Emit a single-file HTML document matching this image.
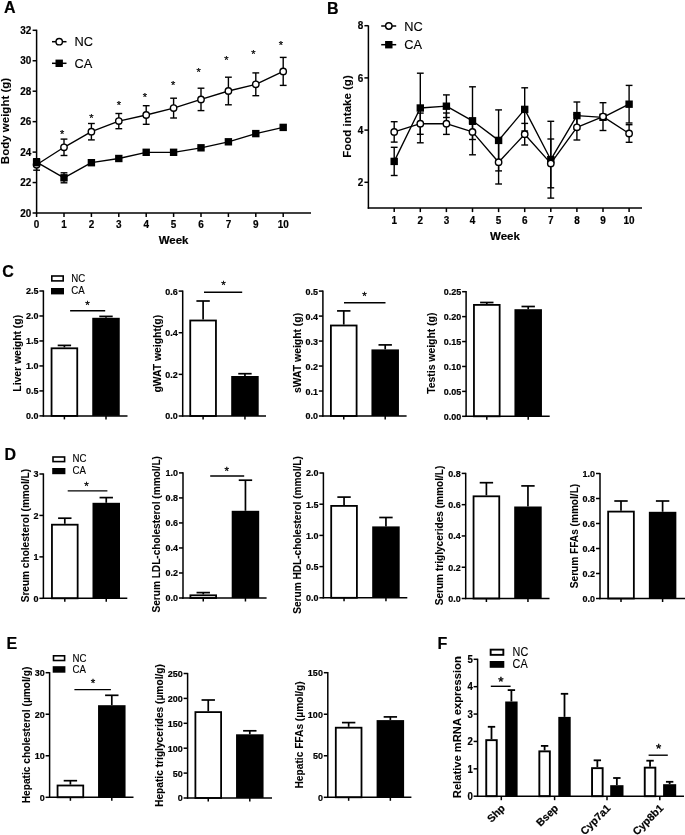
<!DOCTYPE html>
<html><head><meta charset="utf-8"><title>Figure</title>
<style>
html,body{margin:0;padding:0;background:#fff;}
body{width:685px;height:835px;overflow:hidden;}
svg{display:block;will-change:transform;}
svg text{font-family:"Liberation Sans",sans-serif;fill:#000;}
svg text.r{stroke:#000;stroke-width:0.12px;}
svg text.b{stroke:#000;stroke-width:0.2px;stroke-linejoin:round;}
</style></head><body>
<svg width="685" height="835" viewBox="0 0 685 835">
<rect x="0" y="0" width="685" height="835" fill="#fff"/>
<text x="3.9" y="13" font-size="16" font-weight="bold" text-anchor="start" class="b">A</text>
<line x1="36.6" y1="29.7" x2="36.6" y2="213.65" stroke="#000" stroke-width="1.5" stroke-linecap="butt"/>
<line x1="35.95" y1="213" x2="311" y2="213" stroke="#000" stroke-width="1.5" stroke-linecap="butt"/>
<line x1="32.6" y1="30.3" x2="36.6" y2="30.3" stroke="#000" stroke-width="1.5" stroke-linecap="butt"/>
<text transform="translate(31.4 33.9) scale(0.93 1)" font-size="10.7" font-weight="bold" text-anchor="end" class="b">32</text>
<line x1="32.6" y1="60.75" x2="36.6" y2="60.75" stroke="#000" stroke-width="1.5" stroke-linecap="butt"/>
<text transform="translate(31.4 64.35) scale(0.93 1)" font-size="10.7" font-weight="bold" text-anchor="end" class="b">30</text>
<line x1="32.6" y1="91.2" x2="36.6" y2="91.2" stroke="#000" stroke-width="1.5" stroke-linecap="butt"/>
<text transform="translate(31.4 94.8) scale(0.93 1)" font-size="10.7" font-weight="bold" text-anchor="end" class="b">28</text>
<line x1="32.6" y1="121.65" x2="36.6" y2="121.65" stroke="#000" stroke-width="1.5" stroke-linecap="butt"/>
<text transform="translate(31.4 125.25) scale(0.93 1)" font-size="10.7" font-weight="bold" text-anchor="end" class="b">26</text>
<line x1="32.6" y1="152.1" x2="36.6" y2="152.1" stroke="#000" stroke-width="1.5" stroke-linecap="butt"/>
<text transform="translate(31.4 155.7) scale(0.93 1)" font-size="10.7" font-weight="bold" text-anchor="end" class="b">24</text>
<line x1="32.6" y1="182.55" x2="36.6" y2="182.55" stroke="#000" stroke-width="1.5" stroke-linecap="butt"/>
<text transform="translate(31.4 186.15) scale(0.93 1)" font-size="10.7" font-weight="bold" text-anchor="end" class="b">22</text>
<line x1="32.6" y1="213" x2="36.6" y2="213" stroke="#000" stroke-width="1.5" stroke-linecap="butt"/>
<text transform="translate(31.4 216.6) scale(0.93 1)" font-size="10.7" font-weight="bold" text-anchor="end" class="b">20</text>
<line x1="36.6" y1="213" x2="36.6" y2="217" stroke="#000" stroke-width="1.5" stroke-linecap="butt"/>
<text transform="translate(36.6 228.2) scale(0.93 1)" font-size="10.7" font-weight="bold" text-anchor="middle" class="b">0</text>
<line x1="64" y1="213" x2="64" y2="217" stroke="#000" stroke-width="1.5" stroke-linecap="butt"/>
<text transform="translate(64 228.2) scale(0.93 1)" font-size="10.7" font-weight="bold" text-anchor="middle" class="b">1</text>
<line x1="91.4" y1="213" x2="91.4" y2="217" stroke="#000" stroke-width="1.5" stroke-linecap="butt"/>
<text transform="translate(91.4 228.2) scale(0.93 1)" font-size="10.7" font-weight="bold" text-anchor="middle" class="b">2</text>
<line x1="118.8" y1="213" x2="118.8" y2="217" stroke="#000" stroke-width="1.5" stroke-linecap="butt"/>
<text transform="translate(118.8 228.2) scale(0.93 1)" font-size="10.7" font-weight="bold" text-anchor="middle" class="b">3</text>
<line x1="146.2" y1="213" x2="146.2" y2="217" stroke="#000" stroke-width="1.5" stroke-linecap="butt"/>
<text transform="translate(146.2 228.2) scale(0.93 1)" font-size="10.7" font-weight="bold" text-anchor="middle" class="b">4</text>
<line x1="173.6" y1="213" x2="173.6" y2="217" stroke="#000" stroke-width="1.5" stroke-linecap="butt"/>
<text transform="translate(173.6 228.2) scale(0.93 1)" font-size="10.7" font-weight="bold" text-anchor="middle" class="b">5</text>
<line x1="201" y1="213" x2="201" y2="217" stroke="#000" stroke-width="1.5" stroke-linecap="butt"/>
<text transform="translate(201 228.2) scale(0.93 1)" font-size="10.7" font-weight="bold" text-anchor="middle" class="b">6</text>
<line x1="228.4" y1="213" x2="228.4" y2="217" stroke="#000" stroke-width="1.5" stroke-linecap="butt"/>
<text transform="translate(228.4 228.2) scale(0.93 1)" font-size="10.7" font-weight="bold" text-anchor="middle" class="b">7</text>
<line x1="255.8" y1="213" x2="255.8" y2="217" stroke="#000" stroke-width="1.5" stroke-linecap="butt"/>
<text transform="translate(255.8 228.2) scale(0.93 1)" font-size="10.7" font-weight="bold" text-anchor="middle" class="b">9</text>
<line x1="283.2" y1="213" x2="283.2" y2="217" stroke="#000" stroke-width="1.5" stroke-linecap="butt"/>
<text transform="translate(283.2 228.2) scale(0.93 1)" font-size="10.7" font-weight="bold" text-anchor="middle" class="b">10</text>
<text x="173.6" y="243.8" font-size="11.5" font-weight="bold" text-anchor="middle" class="b">Week</text>
<text transform="translate(9.19 121) rotate(-90)" font-size="11.5" font-weight="bold" text-anchor="middle" class="b" style="stroke-width:0.08px">Body weight (g)</text>
<line x1="36.6" y1="164.7" x2="36.6" y2="159.2" stroke="#000" stroke-width="1.4" stroke-linecap="butt"/>
<line x1="33.2" y1="159.2" x2="40" y2="159.2" stroke="#000" stroke-width="1.4" stroke-linecap="butt"/>
<line x1="36.6" y1="164.7" x2="36.6" y2="170.2" stroke="#000" stroke-width="1.4" stroke-linecap="butt"/>
<line x1="33.2" y1="170.2" x2="40" y2="170.2" stroke="#000" stroke-width="1.4" stroke-linecap="butt"/>
<line x1="64" y1="147.3" x2="64" y2="139.1" stroke="#000" stroke-width="1.4" stroke-linecap="butt"/>
<line x1="60.6" y1="139.1" x2="67.4" y2="139.1" stroke="#000" stroke-width="1.4" stroke-linecap="butt"/>
<line x1="64" y1="147.3" x2="64" y2="155.5" stroke="#000" stroke-width="1.4" stroke-linecap="butt"/>
<line x1="60.6" y1="155.5" x2="67.4" y2="155.5" stroke="#000" stroke-width="1.4" stroke-linecap="butt"/>
<line x1="91.4" y1="131.7" x2="91.4" y2="123.5" stroke="#000" stroke-width="1.4" stroke-linecap="butt"/>
<line x1="88" y1="123.5" x2="94.8" y2="123.5" stroke="#000" stroke-width="1.4" stroke-linecap="butt"/>
<line x1="91.4" y1="131.7" x2="91.4" y2="139.9" stroke="#000" stroke-width="1.4" stroke-linecap="butt"/>
<line x1="88" y1="139.9" x2="94.8" y2="139.9" stroke="#000" stroke-width="1.4" stroke-linecap="butt"/>
<line x1="118.8" y1="121.1" x2="118.8" y2="113.5" stroke="#000" stroke-width="1.4" stroke-linecap="butt"/>
<line x1="115.4" y1="113.5" x2="122.2" y2="113.5" stroke="#000" stroke-width="1.4" stroke-linecap="butt"/>
<line x1="118.8" y1="121.1" x2="118.8" y2="128.7" stroke="#000" stroke-width="1.4" stroke-linecap="butt"/>
<line x1="115.4" y1="128.7" x2="122.2" y2="128.7" stroke="#000" stroke-width="1.4" stroke-linecap="butt"/>
<line x1="146.2" y1="115" x2="146.2" y2="105.7" stroke="#000" stroke-width="1.4" stroke-linecap="butt"/>
<line x1="142.8" y1="105.7" x2="149.6" y2="105.7" stroke="#000" stroke-width="1.4" stroke-linecap="butt"/>
<line x1="146.2" y1="115" x2="146.2" y2="124.3" stroke="#000" stroke-width="1.4" stroke-linecap="butt"/>
<line x1="142.8" y1="124.3" x2="149.6" y2="124.3" stroke="#000" stroke-width="1.4" stroke-linecap="butt"/>
<line x1="173.6" y1="108.1" x2="173.6" y2="98.2" stroke="#000" stroke-width="1.4" stroke-linecap="butt"/>
<line x1="170.2" y1="98.2" x2="177" y2="98.2" stroke="#000" stroke-width="1.4" stroke-linecap="butt"/>
<line x1="173.6" y1="108.1" x2="173.6" y2="118" stroke="#000" stroke-width="1.4" stroke-linecap="butt"/>
<line x1="170.2" y1="118" x2="177" y2="118" stroke="#000" stroke-width="1.4" stroke-linecap="butt"/>
<line x1="201" y1="99.4" x2="201" y2="88.2" stroke="#000" stroke-width="1.4" stroke-linecap="butt"/>
<line x1="197.6" y1="88.2" x2="204.4" y2="88.2" stroke="#000" stroke-width="1.4" stroke-linecap="butt"/>
<line x1="201" y1="99.4" x2="201" y2="110.6" stroke="#000" stroke-width="1.4" stroke-linecap="butt"/>
<line x1="197.6" y1="110.6" x2="204.4" y2="110.6" stroke="#000" stroke-width="1.4" stroke-linecap="butt"/>
<line x1="228.4" y1="91" x2="228.4" y2="77.2" stroke="#000" stroke-width="1.4" stroke-linecap="butt"/>
<line x1="225" y1="77.2" x2="231.8" y2="77.2" stroke="#000" stroke-width="1.4" stroke-linecap="butt"/>
<line x1="228.4" y1="91" x2="228.4" y2="104.8" stroke="#000" stroke-width="1.4" stroke-linecap="butt"/>
<line x1="225" y1="104.8" x2="231.8" y2="104.8" stroke="#000" stroke-width="1.4" stroke-linecap="butt"/>
<line x1="255.8" y1="84.3" x2="255.8" y2="72.9" stroke="#000" stroke-width="1.4" stroke-linecap="butt"/>
<line x1="252.4" y1="72.9" x2="259.2" y2="72.9" stroke="#000" stroke-width="1.4" stroke-linecap="butt"/>
<line x1="255.8" y1="84.3" x2="255.8" y2="95.7" stroke="#000" stroke-width="1.4" stroke-linecap="butt"/>
<line x1="252.4" y1="95.7" x2="259.2" y2="95.7" stroke="#000" stroke-width="1.4" stroke-linecap="butt"/>
<line x1="283.2" y1="71.4" x2="283.2" y2="57.4" stroke="#000" stroke-width="1.4" stroke-linecap="butt"/>
<line x1="279.8" y1="57.4" x2="286.6" y2="57.4" stroke="#000" stroke-width="1.4" stroke-linecap="butt"/>
<line x1="283.2" y1="71.4" x2="283.2" y2="85.4" stroke="#000" stroke-width="1.4" stroke-linecap="butt"/>
<line x1="279.8" y1="85.4" x2="286.6" y2="85.4" stroke="#000" stroke-width="1.4" stroke-linecap="butt"/>
<polyline points="36.6,164.7 64,147.3 91.4,131.7 118.8,121.1 146.2,115 173.6,108.1 201,99.4 228.4,91 255.8,84.3 283.2,71.4" fill="none" stroke="#000" stroke-width="1.35" stroke-linejoin="round"/>
<circle cx="36.6" cy="164.7" r="3.2" fill="#fff" stroke="#000" stroke-width="1.4"/>
<circle cx="64" cy="147.3" r="3.2" fill="#fff" stroke="#000" stroke-width="1.4"/>
<circle cx="91.4" cy="131.7" r="3.2" fill="#fff" stroke="#000" stroke-width="1.4"/>
<circle cx="118.8" cy="121.1" r="3.2" fill="#fff" stroke="#000" stroke-width="1.4"/>
<circle cx="146.2" cy="115" r="3.2" fill="#fff" stroke="#000" stroke-width="1.4"/>
<circle cx="173.6" cy="108.1" r="3.2" fill="#fff" stroke="#000" stroke-width="1.4"/>
<circle cx="201" cy="99.4" r="3.2" fill="#fff" stroke="#000" stroke-width="1.4"/>
<circle cx="228.4" cy="91" r="3.2" fill="#fff" stroke="#000" stroke-width="1.4"/>
<circle cx="255.8" cy="84.3" r="3.2" fill="#fff" stroke="#000" stroke-width="1.4"/>
<circle cx="283.2" cy="71.4" r="3.2" fill="#fff" stroke="#000" stroke-width="1.4"/>
<line x1="36.6" y1="162.2" x2="36.6" y2="158.7" stroke="#000" stroke-width="1.4" stroke-linecap="butt"/>
<line x1="33.2" y1="158.7" x2="40" y2="158.7" stroke="#000" stroke-width="1.4" stroke-linecap="butt"/>
<line x1="36.6" y1="162.2" x2="36.6" y2="165.7" stroke="#000" stroke-width="1.4" stroke-linecap="butt"/>
<line x1="33.2" y1="165.7" x2="40" y2="165.7" stroke="#000" stroke-width="1.4" stroke-linecap="butt"/>
<line x1="64" y1="177.8" x2="64" y2="172.8" stroke="#000" stroke-width="1.4" stroke-linecap="butt"/>
<line x1="60.6" y1="172.8" x2="67.4" y2="172.8" stroke="#000" stroke-width="1.4" stroke-linecap="butt"/>
<line x1="64" y1="177.8" x2="64" y2="182.8" stroke="#000" stroke-width="1.4" stroke-linecap="butt"/>
<line x1="60.6" y1="182.8" x2="67.4" y2="182.8" stroke="#000" stroke-width="1.4" stroke-linecap="butt"/>
<polyline points="36.6,162.2 64,177.8 91.4,162.7 118.8,158.5 146.2,152.3 173.6,152.3 201,147.8 228.4,141.8 255.8,133.6 283.2,127.4" fill="none" stroke="#000" stroke-width="1.35" stroke-linejoin="round"/>
<rect x="32.9" y="158.5" width="7.4" height="7.4" fill="#000"/>
<rect x="60.3" y="174.1" width="7.4" height="7.4" fill="#000"/>
<rect x="87.7" y="159" width="7.4" height="7.4" fill="#000"/>
<rect x="115.1" y="154.8" width="7.4" height="7.4" fill="#000"/>
<rect x="142.5" y="148.6" width="7.4" height="7.4" fill="#000"/>
<rect x="169.9" y="148.6" width="7.4" height="7.4" fill="#000"/>
<rect x="197.3" y="144.1" width="7.4" height="7.4" fill="#000"/>
<rect x="224.7" y="138.1" width="7.4" height="7.4" fill="#000"/>
<rect x="252.1" y="129.9" width="7.4" height="7.4" fill="#000"/>
<rect x="279.5" y="123.7" width="7.4" height="7.4" fill="#000"/>
<text x="62.1" y="138.16" font-size="11" font-weight="normal" text-anchor="middle" class="r" style="stroke-width:0.25px">*</text>
<text x="91.4" y="121.76" font-size="11" font-weight="normal" text-anchor="middle" class="r" style="stroke-width:0.25px">*</text>
<text x="118.8" y="109.46" font-size="11" font-weight="normal" text-anchor="middle" class="r" style="stroke-width:0.25px">*</text>
<text x="144.8" y="101.26" font-size="11" font-weight="normal" text-anchor="middle" class="r" style="stroke-width:0.25px">*</text>
<text x="173.2" y="89.06" font-size="11" font-weight="normal" text-anchor="middle" class="r" style="stroke-width:0.25px">*</text>
<text x="198.55" y="76.16" font-size="11" font-weight="normal" text-anchor="middle" class="r" style="stroke-width:0.25px">*</text>
<text x="226.4" y="64.46" font-size="11" font-weight="normal" text-anchor="middle" class="r" style="stroke-width:0.25px">*</text>
<text x="253.35" y="58.06" font-size="11" font-weight="normal" text-anchor="middle" class="r" style="stroke-width:0.25px">*</text>
<text x="280.95" y="48.56" font-size="11" font-weight="normal" text-anchor="middle" class="r" style="stroke-width:0.25px">*</text>
<line x1="52" y1="41.7" x2="66.5" y2="41.7" stroke="#000" stroke-width="1.5" stroke-linecap="butt"/>
<circle cx="59.2" cy="41.7" r="3.2" fill="#fff" stroke="#000" stroke-width="1.4"/>
<line x1="52" y1="63.3" x2="66.5" y2="63.3" stroke="#000" stroke-width="1.5" stroke-linecap="butt"/>
<rect x="55.5" y="59.6" width="7.4" height="7.4" fill="#000"/>
<text x="74.4" y="46.1" font-size="12.8" font-weight="normal" text-anchor="start" class="r">NC</text>
<text x="74.4" y="67.7" font-size="12.8" font-weight="normal" text-anchor="start" class="r">CA</text>
<text x="326.9" y="13.8" font-size="16" font-weight="bold" text-anchor="start" class="b">B</text>
<line x1="368.4" y1="25.4" x2="368.4" y2="208.75" stroke="#000" stroke-width="1.5" stroke-linecap="butt"/>
<line x1="367.75" y1="208.1" x2="642" y2="208.1" stroke="#000" stroke-width="1.5" stroke-linecap="butt"/>
<line x1="364.4" y1="25.7" x2="368.4" y2="25.7" stroke="#000" stroke-width="1.5" stroke-linecap="butt"/>
<text transform="translate(363.2 29.3) scale(0.93 1)" font-size="10.7" font-weight="bold" text-anchor="end" class="b">8</text>
<line x1="364.4" y1="77.9" x2="368.4" y2="77.9" stroke="#000" stroke-width="1.5" stroke-linecap="butt"/>
<text transform="translate(363.2 81.5) scale(0.93 1)" font-size="10.7" font-weight="bold" text-anchor="end" class="b">6</text>
<line x1="364.4" y1="130.1" x2="368.4" y2="130.1" stroke="#000" stroke-width="1.5" stroke-linecap="butt"/>
<text transform="translate(363.2 133.7) scale(0.93 1)" font-size="10.7" font-weight="bold" text-anchor="end" class="b">4</text>
<line x1="364.4" y1="182.3" x2="368.4" y2="182.3" stroke="#000" stroke-width="1.5" stroke-linecap="butt"/>
<text transform="translate(363.2 185.9) scale(0.93 1)" font-size="10.7" font-weight="bold" text-anchor="end" class="b">2</text>
<line x1="394.2" y1="208.1" x2="394.2" y2="212.1" stroke="#000" stroke-width="1.5" stroke-linecap="butt"/>
<text transform="translate(394.2 223.6) scale(0.93 1)" font-size="10.7" font-weight="bold" text-anchor="middle" class="b">1</text>
<line x1="420.3" y1="208.1" x2="420.3" y2="212.1" stroke="#000" stroke-width="1.5" stroke-linecap="butt"/>
<text transform="translate(420.3 223.6) scale(0.93 1)" font-size="10.7" font-weight="bold" text-anchor="middle" class="b">2</text>
<line x1="446.4" y1="208.1" x2="446.4" y2="212.1" stroke="#000" stroke-width="1.5" stroke-linecap="butt"/>
<text transform="translate(446.4 223.6) scale(0.93 1)" font-size="10.7" font-weight="bold" text-anchor="middle" class="b">3</text>
<line x1="472.5" y1="208.1" x2="472.5" y2="212.1" stroke="#000" stroke-width="1.5" stroke-linecap="butt"/>
<text transform="translate(472.5 223.6) scale(0.93 1)" font-size="10.7" font-weight="bold" text-anchor="middle" class="b">4</text>
<line x1="498.6" y1="208.1" x2="498.6" y2="212.1" stroke="#000" stroke-width="1.5" stroke-linecap="butt"/>
<text transform="translate(498.6 223.6) scale(0.93 1)" font-size="10.7" font-weight="bold" text-anchor="middle" class="b">5</text>
<line x1="524.7" y1="208.1" x2="524.7" y2="212.1" stroke="#000" stroke-width="1.5" stroke-linecap="butt"/>
<text transform="translate(524.7 223.6) scale(0.93 1)" font-size="10.7" font-weight="bold" text-anchor="middle" class="b">6</text>
<line x1="550.8" y1="208.1" x2="550.8" y2="212.1" stroke="#000" stroke-width="1.5" stroke-linecap="butt"/>
<text transform="translate(550.8 223.6) scale(0.93 1)" font-size="10.7" font-weight="bold" text-anchor="middle" class="b">7</text>
<line x1="576.9" y1="208.1" x2="576.9" y2="212.1" stroke="#000" stroke-width="1.5" stroke-linecap="butt"/>
<text transform="translate(576.9 223.6) scale(0.93 1)" font-size="10.7" font-weight="bold" text-anchor="middle" class="b">8</text>
<line x1="603" y1="208.1" x2="603" y2="212.1" stroke="#000" stroke-width="1.5" stroke-linecap="butt"/>
<text transform="translate(603 223.6) scale(0.93 1)" font-size="10.7" font-weight="bold" text-anchor="middle" class="b">9</text>
<line x1="629.1" y1="208.1" x2="629.1" y2="212.1" stroke="#000" stroke-width="1.5" stroke-linecap="butt"/>
<text transform="translate(629.1 223.6) scale(0.93 1)" font-size="10.7" font-weight="bold" text-anchor="middle" class="b">10</text>
<text x="505" y="239.6" font-size="11.5" font-weight="bold" text-anchor="middle" class="b">Week</text>
<text transform="translate(350.99 116.5) rotate(-90)" font-size="11.5" font-weight="bold" text-anchor="middle" class="b" style="stroke-width:0.08px">Food intake (g)</text>
<line x1="394.2" y1="161.4" x2="394.2" y2="147.3" stroke="#000" stroke-width="1.4" stroke-linecap="butt"/>
<line x1="390.8" y1="147.3" x2="397.6" y2="147.3" stroke="#000" stroke-width="1.4" stroke-linecap="butt"/>
<line x1="394.2" y1="161.4" x2="394.2" y2="175.5" stroke="#000" stroke-width="1.4" stroke-linecap="butt"/>
<line x1="390.8" y1="175.5" x2="397.6" y2="175.5" stroke="#000" stroke-width="1.4" stroke-linecap="butt"/>
<line x1="420.3" y1="108" x2="420.3" y2="73.2" stroke="#000" stroke-width="1.4" stroke-linecap="butt"/>
<line x1="416.9" y1="73.2" x2="423.7" y2="73.2" stroke="#000" stroke-width="1.4" stroke-linecap="butt"/>
<line x1="420.3" y1="108" x2="420.3" y2="142.8" stroke="#000" stroke-width="1.4" stroke-linecap="butt"/>
<line x1="416.9" y1="142.8" x2="423.7" y2="142.8" stroke="#000" stroke-width="1.4" stroke-linecap="butt"/>
<line x1="446.4" y1="106.2" x2="446.4" y2="94.9" stroke="#000" stroke-width="1.4" stroke-linecap="butt"/>
<line x1="443" y1="94.9" x2="449.8" y2="94.9" stroke="#000" stroke-width="1.4" stroke-linecap="butt"/>
<line x1="446.4" y1="106.2" x2="446.4" y2="117.5" stroke="#000" stroke-width="1.4" stroke-linecap="butt"/>
<line x1="443" y1="117.5" x2="449.8" y2="117.5" stroke="#000" stroke-width="1.4" stroke-linecap="butt"/>
<line x1="472.5" y1="120.8" x2="472.5" y2="86.8" stroke="#000" stroke-width="1.4" stroke-linecap="butt"/>
<line x1="469.1" y1="86.8" x2="475.9" y2="86.8" stroke="#000" stroke-width="1.4" stroke-linecap="butt"/>
<line x1="472.5" y1="120.8" x2="472.5" y2="154.8" stroke="#000" stroke-width="1.4" stroke-linecap="butt"/>
<line x1="469.1" y1="154.8" x2="475.9" y2="154.8" stroke="#000" stroke-width="1.4" stroke-linecap="butt"/>
<line x1="498.6" y1="140.4" x2="498.6" y2="109.9" stroke="#000" stroke-width="1.4" stroke-linecap="butt"/>
<line x1="495.2" y1="109.9" x2="502" y2="109.9" stroke="#000" stroke-width="1.4" stroke-linecap="butt"/>
<line x1="498.6" y1="140.4" x2="498.6" y2="170.9" stroke="#000" stroke-width="1.4" stroke-linecap="butt"/>
<line x1="495.2" y1="170.9" x2="502" y2="170.9" stroke="#000" stroke-width="1.4" stroke-linecap="butt"/>
<line x1="524.7" y1="109.4" x2="524.7" y2="87.8" stroke="#000" stroke-width="1.4" stroke-linecap="butt"/>
<line x1="521.3" y1="87.8" x2="528.1" y2="87.8" stroke="#000" stroke-width="1.4" stroke-linecap="butt"/>
<line x1="524.7" y1="109.4" x2="524.7" y2="131" stroke="#000" stroke-width="1.4" stroke-linecap="butt"/>
<line x1="521.3" y1="131" x2="528.1" y2="131" stroke="#000" stroke-width="1.4" stroke-linecap="butt"/>
<line x1="550.8" y1="159.7" x2="550.8" y2="121.3" stroke="#000" stroke-width="1.4" stroke-linecap="butt"/>
<line x1="547.4" y1="121.3" x2="554.2" y2="121.3" stroke="#000" stroke-width="1.4" stroke-linecap="butt"/>
<line x1="550.8" y1="159.7" x2="550.8" y2="198.1" stroke="#000" stroke-width="1.4" stroke-linecap="butt"/>
<line x1="547.4" y1="198.1" x2="554.2" y2="198.1" stroke="#000" stroke-width="1.4" stroke-linecap="butt"/>
<line x1="576.9" y1="115.6" x2="576.9" y2="102" stroke="#000" stroke-width="1.4" stroke-linecap="butt"/>
<line x1="573.5" y1="102" x2="580.3" y2="102" stroke="#000" stroke-width="1.4" stroke-linecap="butt"/>
<line x1="576.9" y1="115.6" x2="576.9" y2="129.2" stroke="#000" stroke-width="1.4" stroke-linecap="butt"/>
<line x1="573.5" y1="129.2" x2="580.3" y2="129.2" stroke="#000" stroke-width="1.4" stroke-linecap="butt"/>
<line x1="629.1" y1="104.2" x2="629.1" y2="85.4" stroke="#000" stroke-width="1.4" stroke-linecap="butt"/>
<line x1="625.7" y1="85.4" x2="632.5" y2="85.4" stroke="#000" stroke-width="1.4" stroke-linecap="butt"/>
<line x1="629.1" y1="104.2" x2="629.1" y2="123" stroke="#000" stroke-width="1.4" stroke-linecap="butt"/>
<line x1="625.7" y1="123" x2="632.5" y2="123" stroke="#000" stroke-width="1.4" stroke-linecap="butt"/>
<line x1="394.2" y1="131.9" x2="394.2" y2="121.7" stroke="#000" stroke-width="1.4" stroke-linecap="butt"/>
<line x1="390.8" y1="121.7" x2="397.6" y2="121.7" stroke="#000" stroke-width="1.4" stroke-linecap="butt"/>
<line x1="394.2" y1="131.9" x2="394.2" y2="142.1" stroke="#000" stroke-width="1.4" stroke-linecap="butt"/>
<line x1="390.8" y1="142.1" x2="397.6" y2="142.1" stroke="#000" stroke-width="1.4" stroke-linecap="butt"/>
<line x1="420.3" y1="123.7" x2="420.3" y2="113.1" stroke="#000" stroke-width="1.4" stroke-linecap="butt"/>
<line x1="416.9" y1="113.1" x2="423.7" y2="113.1" stroke="#000" stroke-width="1.4" stroke-linecap="butt"/>
<line x1="420.3" y1="123.7" x2="420.3" y2="134.3" stroke="#000" stroke-width="1.4" stroke-linecap="butt"/>
<line x1="416.9" y1="134.3" x2="423.7" y2="134.3" stroke="#000" stroke-width="1.4" stroke-linecap="butt"/>
<line x1="446.4" y1="123.7" x2="446.4" y2="113" stroke="#000" stroke-width="1.4" stroke-linecap="butt"/>
<line x1="443" y1="113" x2="449.8" y2="113" stroke="#000" stroke-width="1.4" stroke-linecap="butt"/>
<line x1="446.4" y1="123.7" x2="446.4" y2="134.4" stroke="#000" stroke-width="1.4" stroke-linecap="butt"/>
<line x1="443" y1="134.4" x2="449.8" y2="134.4" stroke="#000" stroke-width="1.4" stroke-linecap="butt"/>
<line x1="472.5" y1="131.9" x2="472.5" y2="124.3" stroke="#000" stroke-width="1.4" stroke-linecap="butt"/>
<line x1="469.1" y1="124.3" x2="475.9" y2="124.3" stroke="#000" stroke-width="1.4" stroke-linecap="butt"/>
<line x1="472.5" y1="131.9" x2="472.5" y2="139.5" stroke="#000" stroke-width="1.4" stroke-linecap="butt"/>
<line x1="469.1" y1="139.5" x2="475.9" y2="139.5" stroke="#000" stroke-width="1.4" stroke-linecap="butt"/>
<line x1="498.6" y1="162.2" x2="498.6" y2="140.4" stroke="#000" stroke-width="1.4" stroke-linecap="butt"/>
<line x1="495.2" y1="140.4" x2="502" y2="140.4" stroke="#000" stroke-width="1.4" stroke-linecap="butt"/>
<line x1="498.6" y1="162.2" x2="498.6" y2="184" stroke="#000" stroke-width="1.4" stroke-linecap="butt"/>
<line x1="495.2" y1="184" x2="502" y2="184" stroke="#000" stroke-width="1.4" stroke-linecap="butt"/>
<line x1="524.7" y1="134.2" x2="524.7" y2="123.4" stroke="#000" stroke-width="1.4" stroke-linecap="butt"/>
<line x1="521.3" y1="123.4" x2="528.1" y2="123.4" stroke="#000" stroke-width="1.4" stroke-linecap="butt"/>
<line x1="524.7" y1="134.2" x2="524.7" y2="145" stroke="#000" stroke-width="1.4" stroke-linecap="butt"/>
<line x1="521.3" y1="145" x2="528.1" y2="145" stroke="#000" stroke-width="1.4" stroke-linecap="butt"/>
<line x1="550.8" y1="163.4" x2="550.8" y2="139" stroke="#000" stroke-width="1.4" stroke-linecap="butt"/>
<line x1="547.4" y1="139" x2="554.2" y2="139" stroke="#000" stroke-width="1.4" stroke-linecap="butt"/>
<line x1="550.8" y1="163.4" x2="550.8" y2="187.8" stroke="#000" stroke-width="1.4" stroke-linecap="butt"/>
<line x1="547.4" y1="187.8" x2="554.2" y2="187.8" stroke="#000" stroke-width="1.4" stroke-linecap="butt"/>
<line x1="576.9" y1="127.3" x2="576.9" y2="114.6" stroke="#000" stroke-width="1.4" stroke-linecap="butt"/>
<line x1="573.5" y1="114.6" x2="580.3" y2="114.6" stroke="#000" stroke-width="1.4" stroke-linecap="butt"/>
<line x1="576.9" y1="127.3" x2="576.9" y2="140" stroke="#000" stroke-width="1.4" stroke-linecap="butt"/>
<line x1="573.5" y1="140" x2="580.3" y2="140" stroke="#000" stroke-width="1.4" stroke-linecap="butt"/>
<line x1="603" y1="116.6" x2="603" y2="102.7" stroke="#000" stroke-width="1.4" stroke-linecap="butt"/>
<line x1="599.6" y1="102.7" x2="606.4" y2="102.7" stroke="#000" stroke-width="1.4" stroke-linecap="butt"/>
<line x1="603" y1="116.6" x2="603" y2="130.5" stroke="#000" stroke-width="1.4" stroke-linecap="butt"/>
<line x1="599.6" y1="130.5" x2="606.4" y2="130.5" stroke="#000" stroke-width="1.4" stroke-linecap="butt"/>
<line x1="629.1" y1="133.5" x2="629.1" y2="124.7" stroke="#000" stroke-width="1.4" stroke-linecap="butt"/>
<line x1="625.7" y1="124.7" x2="632.5" y2="124.7" stroke="#000" stroke-width="1.4" stroke-linecap="butt"/>
<line x1="629.1" y1="133.5" x2="629.1" y2="142.3" stroke="#000" stroke-width="1.4" stroke-linecap="butt"/>
<line x1="625.7" y1="142.3" x2="632.5" y2="142.3" stroke="#000" stroke-width="1.4" stroke-linecap="butt"/>
<polyline points="394.2,161.4 420.3,108 446.4,106.2 472.5,120.8 498.6,140.4 524.7,109.4 550.8,159.7 576.9,115.6 603,117.3 629.1,104.2" fill="none" stroke="#000" stroke-width="1.35" stroke-linejoin="round"/>
<polyline points="394.2,131.9 420.3,123.7 446.4,123.7 472.5,131.9 498.6,162.2 524.7,134.2 550.8,163.4 576.9,127.3 603,116.6 629.1,133.5" fill="none" stroke="#000" stroke-width="1.35" stroke-linejoin="round"/>
<rect x="390.5" y="157.7" width="7.4" height="7.4" fill="#000"/>
<rect x="416.6" y="104.3" width="7.4" height="7.4" fill="#000"/>
<rect x="442.7" y="102.5" width="7.4" height="7.4" fill="#000"/>
<rect x="468.8" y="117.1" width="7.4" height="7.4" fill="#000"/>
<rect x="494.9" y="136.7" width="7.4" height="7.4" fill="#000"/>
<rect x="521" y="105.7" width="7.4" height="7.4" fill="#000"/>
<rect x="547.1" y="156" width="7.4" height="7.4" fill="#000"/>
<rect x="573.2" y="111.9" width="7.4" height="7.4" fill="#000"/>
<rect x="599.3" y="113.6" width="7.4" height="7.4" fill="#000"/>
<rect x="625.4" y="100.5" width="7.4" height="7.4" fill="#000"/>
<circle cx="394.2" cy="131.9" r="3.2" fill="#fff" stroke="#000" stroke-width="1.4"/>
<circle cx="420.3" cy="123.7" r="3.2" fill="#fff" stroke="#000" stroke-width="1.4"/>
<circle cx="446.4" cy="123.7" r="3.2" fill="#fff" stroke="#000" stroke-width="1.4"/>
<circle cx="472.5" cy="131.9" r="3.2" fill="#fff" stroke="#000" stroke-width="1.4"/>
<circle cx="498.6" cy="162.2" r="3.2" fill="#fff" stroke="#000" stroke-width="1.4"/>
<circle cx="524.7" cy="134.2" r="3.2" fill="#fff" stroke="#000" stroke-width="1.4"/>
<circle cx="550.8" cy="163.4" r="3.2" fill="#fff" stroke="#000" stroke-width="1.4"/>
<circle cx="576.9" cy="127.3" r="3.2" fill="#fff" stroke="#000" stroke-width="1.4"/>
<circle cx="603" cy="116.6" r="3.2" fill="#fff" stroke="#000" stroke-width="1.4"/>
<circle cx="629.1" cy="133.5" r="3.2" fill="#fff" stroke="#000" stroke-width="1.4"/>
<line x1="381.2" y1="26" x2="396.2" y2="26" stroke="#000" stroke-width="1.5" stroke-linecap="butt"/>
<circle cx="388.8" cy="26" r="3.2" fill="#fff" stroke="#000" stroke-width="1.4"/>
<line x1="381.2" y1="44.7" x2="396.2" y2="44.7" stroke="#000" stroke-width="1.5" stroke-linecap="butt"/>
<rect x="385.1" y="41" width="7.4" height="7.4" fill="#000"/>
<text x="404.2" y="30.5" font-size="12.8" font-weight="normal" text-anchor="start" class="r">NC</text>
<text x="404.2" y="49.1" font-size="12.8" font-weight="normal" text-anchor="start" class="r">CA</text>
<text x="2.3" y="277.1" font-size="16" font-weight="bold" text-anchor="start" class="b">C</text>
<rect x="51.8" y="276" width="11.4" height="4.9" fill="#fff" stroke="#000" stroke-width="1.6"/>
<rect x="51" y="288" width="13" height="6.4" fill="#000"/>
<text transform="translate(71.2 281.7) scale(0.93 1)" font-size="10.4" font-weight="normal" text-anchor="start" class="r">NC</text>
<text transform="translate(71.2 294.1) scale(0.93 1)" font-size="10.4" font-weight="normal" text-anchor="start" class="r">CA</text>
<line x1="64.4" y1="345.4" x2="64.4" y2="347.4" stroke="#000" stroke-width="1.7" stroke-linecap="butt"/>
<line x1="57.7" y1="345.4" x2="71.1" y2="345.4" stroke="#000" stroke-width="1.7" stroke-linecap="butt"/>
<rect x="51.55" y="348.3" width="25.7" height="67.6" fill="#fff" stroke="#000" stroke-width="1.8"/>
<line x1="106" y1="316.4" x2="106" y2="317.8" stroke="#000" stroke-width="1.7" stroke-linecap="butt"/>
<line x1="99.3" y1="316.4" x2="112.7" y2="316.4" stroke="#000" stroke-width="1.7" stroke-linecap="butt"/>
<rect x="92.25" y="317.8" width="27.5" height="98.1" fill="#000"/>
<line x1="43.4" y1="290.4" x2="43.4" y2="416.55" stroke="#000" stroke-width="1.5" stroke-linecap="butt"/>
<line x1="42.75" y1="415.9" x2="127.5" y2="415.9" stroke="#000" stroke-width="1.5" stroke-linecap="butt"/>
<line x1="39.4" y1="291" x2="43.4" y2="291" stroke="#000" stroke-width="1.5" stroke-linecap="butt"/>
<text transform="translate(38.5 294.48) scale(0.92 1)" font-size="9.8" font-weight="bold" text-anchor="end" class="b">2.5</text>
<line x1="39.4" y1="315.98" x2="43.4" y2="315.98" stroke="#000" stroke-width="1.5" stroke-linecap="butt"/>
<text transform="translate(38.5 319.46) scale(0.92 1)" font-size="9.8" font-weight="bold" text-anchor="end" class="b">2.0</text>
<line x1="39.4" y1="340.96" x2="43.4" y2="340.96" stroke="#000" stroke-width="1.5" stroke-linecap="butt"/>
<text transform="translate(38.5 344.44) scale(0.92 1)" font-size="9.8" font-weight="bold" text-anchor="end" class="b">1.5</text>
<line x1="39.4" y1="365.94" x2="43.4" y2="365.94" stroke="#000" stroke-width="1.5" stroke-linecap="butt"/>
<text transform="translate(38.5 369.42) scale(0.92 1)" font-size="9.8" font-weight="bold" text-anchor="end" class="b">1.0</text>
<line x1="39.4" y1="390.92" x2="43.4" y2="390.92" stroke="#000" stroke-width="1.5" stroke-linecap="butt"/>
<text transform="translate(38.5 394.4) scale(0.92 1)" font-size="9.8" font-weight="bold" text-anchor="end" class="b">0.5</text>
<line x1="39.4" y1="415.9" x2="43.4" y2="415.9" stroke="#000" stroke-width="1.5" stroke-linecap="butt"/>
<text transform="translate(38.5 419.38) scale(0.92 1)" font-size="9.8" font-weight="bold" text-anchor="end" class="b">0.0</text>
<line x1="64.4" y1="415.9" x2="64.4" y2="419.4" stroke="#000" stroke-width="1.5" stroke-linecap="butt"/>
<line x1="106" y1="415.9" x2="106" y2="419.4" stroke="#000" stroke-width="1.5" stroke-linecap="butt"/>
<text transform="translate(20.7 353.3) rotate(-90)" font-size="10.4" font-weight="bold" text-anchor="middle" class="b" style="stroke-width:0.08px">Liver weight (g)</text>
<line x1="70.1" y1="310.7" x2="105.2" y2="310.7" stroke="#000" stroke-width="1.4" stroke-linecap="butt"/>
<text x="87.5" y="309.34" font-size="11.5" font-weight="normal" text-anchor="middle" class="r" style="stroke-width:0.3px">*</text>
<line x1="203.1" y1="301" x2="203.1" y2="319.6" stroke="#000" stroke-width="1.7" stroke-linecap="butt"/>
<line x1="196.4" y1="301" x2="209.8" y2="301" stroke="#000" stroke-width="1.7" stroke-linecap="butt"/>
<rect x="190.25" y="320.5" width="25.7" height="95.5" fill="#fff" stroke="#000" stroke-width="1.8"/>
<line x1="244.95" y1="373.7" x2="244.95" y2="376" stroke="#000" stroke-width="1.7" stroke-linecap="butt"/>
<line x1="238.25" y1="373.7" x2="251.65" y2="373.7" stroke="#000" stroke-width="1.7" stroke-linecap="butt"/>
<rect x="231.2" y="376" width="27.5" height="40" fill="#000"/>
<line x1="182.7" y1="290.5" x2="182.7" y2="416.65" stroke="#000" stroke-width="1.5" stroke-linecap="butt"/>
<line x1="182.05" y1="416" x2="266" y2="416" stroke="#000" stroke-width="1.5" stroke-linecap="butt"/>
<line x1="178.7" y1="291.1" x2="182.7" y2="291.1" stroke="#000" stroke-width="1.5" stroke-linecap="butt"/>
<text transform="translate(177.8 294.58) scale(0.92 1)" font-size="9.8" font-weight="bold" text-anchor="end" class="b">0.6</text>
<line x1="178.7" y1="332.73" x2="182.7" y2="332.73" stroke="#000" stroke-width="1.5" stroke-linecap="butt"/>
<text transform="translate(177.8 336.21) scale(0.92 1)" font-size="9.8" font-weight="bold" text-anchor="end" class="b">0.4</text>
<line x1="178.7" y1="374.37" x2="182.7" y2="374.37" stroke="#000" stroke-width="1.5" stroke-linecap="butt"/>
<text transform="translate(177.8 377.85) scale(0.92 1)" font-size="9.8" font-weight="bold" text-anchor="end" class="b">0.2</text>
<line x1="178.7" y1="416" x2="182.7" y2="416" stroke="#000" stroke-width="1.5" stroke-linecap="butt"/>
<text transform="translate(177.8 419.48) scale(0.92 1)" font-size="9.8" font-weight="bold" text-anchor="end" class="b">0.0</text>
<line x1="203.1" y1="416" x2="203.1" y2="419.5" stroke="#000" stroke-width="1.5" stroke-linecap="butt"/>
<line x1="244.95" y1="416" x2="244.95" y2="419.5" stroke="#000" stroke-width="1.5" stroke-linecap="butt"/>
<text transform="translate(160.8 353.7) rotate(-90)" font-size="10.4" font-weight="bold" text-anchor="middle" class="b" style="stroke-width:0.08px">gWAT weight(g)</text>
<line x1="204" y1="292.3" x2="242.2" y2="292.3" stroke="#000" stroke-width="1.4" stroke-linecap="butt"/>
<text x="223.6" y="288.94" font-size="11.5" font-weight="normal" text-anchor="middle" class="r" style="stroke-width:0.3px">*</text>
<line x1="343.75" y1="310.9" x2="343.75" y2="324.6" stroke="#000" stroke-width="1.7" stroke-linecap="butt"/>
<line x1="337.05" y1="310.9" x2="350.45" y2="310.9" stroke="#000" stroke-width="1.7" stroke-linecap="butt"/>
<rect x="330.9" y="325.5" width="25.7" height="90.5" fill="#fff" stroke="#000" stroke-width="1.8"/>
<line x1="385.2" y1="344.9" x2="385.2" y2="349.4" stroke="#000" stroke-width="1.7" stroke-linecap="butt"/>
<line x1="378.5" y1="344.9" x2="391.9" y2="344.9" stroke="#000" stroke-width="1.7" stroke-linecap="butt"/>
<rect x="371.45" y="349.4" width="27.5" height="66.6" fill="#000"/>
<line x1="322.9" y1="290.5" x2="322.9" y2="416.65" stroke="#000" stroke-width="1.5" stroke-linecap="butt"/>
<line x1="322.25" y1="416" x2="406.6" y2="416" stroke="#000" stroke-width="1.5" stroke-linecap="butt"/>
<line x1="318.9" y1="291.1" x2="322.9" y2="291.1" stroke="#000" stroke-width="1.5" stroke-linecap="butt"/>
<text transform="translate(318 294.58) scale(0.92 1)" font-size="9.8" font-weight="bold" text-anchor="end" class="b">0.5</text>
<line x1="318.9" y1="316.08" x2="322.9" y2="316.08" stroke="#000" stroke-width="1.5" stroke-linecap="butt"/>
<text transform="translate(318 319.56) scale(0.92 1)" font-size="9.8" font-weight="bold" text-anchor="end" class="b">0.4</text>
<line x1="318.9" y1="341.06" x2="322.9" y2="341.06" stroke="#000" stroke-width="1.5" stroke-linecap="butt"/>
<text transform="translate(318 344.54) scale(0.92 1)" font-size="9.8" font-weight="bold" text-anchor="end" class="b">0.3</text>
<line x1="318.9" y1="366.04" x2="322.9" y2="366.04" stroke="#000" stroke-width="1.5" stroke-linecap="butt"/>
<text transform="translate(318 369.52) scale(0.92 1)" font-size="9.8" font-weight="bold" text-anchor="end" class="b">0.2</text>
<line x1="318.9" y1="391.02" x2="322.9" y2="391.02" stroke="#000" stroke-width="1.5" stroke-linecap="butt"/>
<text transform="translate(318 394.5) scale(0.92 1)" font-size="9.8" font-weight="bold" text-anchor="end" class="b">0.1</text>
<line x1="318.9" y1="416" x2="322.9" y2="416" stroke="#000" stroke-width="1.5" stroke-linecap="butt"/>
<text transform="translate(318 419.48) scale(0.92 1)" font-size="9.8" font-weight="bold" text-anchor="end" class="b">0.0</text>
<line x1="343.75" y1="416" x2="343.75" y2="419.5" stroke="#000" stroke-width="1.5" stroke-linecap="butt"/>
<line x1="385.2" y1="416" x2="385.2" y2="419.5" stroke="#000" stroke-width="1.5" stroke-linecap="butt"/>
<text transform="translate(300.5 352.9) rotate(-90)" font-size="10.4" font-weight="bold" text-anchor="middle" class="b" style="stroke-width:0.08px">sWAT weight (g)</text>
<line x1="344" y1="302.8" x2="385.5" y2="302.8" stroke="#000" stroke-width="1.4" stroke-linecap="butt"/>
<text x="364.4" y="299.64" font-size="11.5" font-weight="normal" text-anchor="middle" class="r" style="stroke-width:0.3px">*</text>
<line x1="486.8" y1="302.5" x2="486.8" y2="304" stroke="#000" stroke-width="1.7" stroke-linecap="butt"/>
<line x1="480.1" y1="302.5" x2="493.5" y2="302.5" stroke="#000" stroke-width="1.7" stroke-linecap="butt"/>
<rect x="473.95" y="304.9" width="25.7" height="111.4" fill="#fff" stroke="#000" stroke-width="1.8"/>
<line x1="528.2" y1="306.5" x2="528.2" y2="309.2" stroke="#000" stroke-width="1.7" stroke-linecap="butt"/>
<line x1="521.5" y1="306.5" x2="534.9" y2="306.5" stroke="#000" stroke-width="1.7" stroke-linecap="butt"/>
<rect x="514.45" y="309.2" width="27.5" height="107.1" fill="#000"/>
<line x1="466.1" y1="291.1" x2="466.1" y2="416.95" stroke="#000" stroke-width="1.5" stroke-linecap="butt"/>
<line x1="465.45" y1="416.3" x2="549.7" y2="416.3" stroke="#000" stroke-width="1.5" stroke-linecap="butt"/>
<line x1="462.1" y1="291.7" x2="466.1" y2="291.7" stroke="#000" stroke-width="1.5" stroke-linecap="butt"/>
<text transform="translate(461.2 295.18) scale(0.92 1)" font-size="9.8" font-weight="bold" text-anchor="end" class="b">0.25</text>
<line x1="462.1" y1="316.62" x2="466.1" y2="316.62" stroke="#000" stroke-width="1.5" stroke-linecap="butt"/>
<text transform="translate(461.2 320.1) scale(0.92 1)" font-size="9.8" font-weight="bold" text-anchor="end" class="b">0.20</text>
<line x1="462.1" y1="341.54" x2="466.1" y2="341.54" stroke="#000" stroke-width="1.5" stroke-linecap="butt"/>
<text transform="translate(461.2 345.02) scale(0.92 1)" font-size="9.8" font-weight="bold" text-anchor="end" class="b">0.15</text>
<line x1="462.1" y1="366.46" x2="466.1" y2="366.46" stroke="#000" stroke-width="1.5" stroke-linecap="butt"/>
<text transform="translate(461.2 369.94) scale(0.92 1)" font-size="9.8" font-weight="bold" text-anchor="end" class="b">0.10</text>
<line x1="462.1" y1="391.38" x2="466.1" y2="391.38" stroke="#000" stroke-width="1.5" stroke-linecap="butt"/>
<text transform="translate(461.2 394.86) scale(0.92 1)" font-size="9.8" font-weight="bold" text-anchor="end" class="b">0.05</text>
<line x1="462.1" y1="416.3" x2="466.1" y2="416.3" stroke="#000" stroke-width="1.5" stroke-linecap="butt"/>
<text transform="translate(461.2 419.78) scale(0.92 1)" font-size="9.8" font-weight="bold" text-anchor="end" class="b">0.00</text>
<line x1="486.8" y1="416.3" x2="486.8" y2="419.8" stroke="#000" stroke-width="1.5" stroke-linecap="butt"/>
<line x1="528.2" y1="416.3" x2="528.2" y2="419.8" stroke="#000" stroke-width="1.5" stroke-linecap="butt"/>
<text transform="translate(434.5 353.2) rotate(-90)" font-size="10.4" font-weight="bold" text-anchor="middle" class="b" style="stroke-width:0.08px">Testis weight (g)</text>
<text x="4.5" y="460.1" font-size="16" font-weight="bold" text-anchor="start" class="b">D</text>
<rect x="53" y="457" width="11.6" height="4.6" fill="#fff" stroke="#000" stroke-width="1.6"/>
<rect x="52.2" y="468" width="13.2" height="6.2" fill="#000"/>
<text transform="translate(72.4 462.4) scale(0.93 1)" font-size="10.4" font-weight="normal" text-anchor="start" class="r">NC</text>
<text transform="translate(72.4 474.4) scale(0.93 1)" font-size="10.4" font-weight="normal" text-anchor="start" class="r">CA</text>
<line x1="64.8" y1="518.2" x2="64.8" y2="523.8" stroke="#000" stroke-width="1.7" stroke-linecap="butt"/>
<line x1="58.1" y1="518.2" x2="71.5" y2="518.2" stroke="#000" stroke-width="1.7" stroke-linecap="butt"/>
<rect x="51.95" y="524.7" width="25.7" height="73.6" fill="#fff" stroke="#000" stroke-width="1.8"/>
<line x1="106.25" y1="497.6" x2="106.25" y2="502.8" stroke="#000" stroke-width="1.7" stroke-linecap="butt"/>
<line x1="99.55" y1="497.6" x2="112.95" y2="497.6" stroke="#000" stroke-width="1.7" stroke-linecap="butt"/>
<rect x="92.5" y="502.8" width="27.5" height="95.5" fill="#000"/>
<line x1="43.4" y1="473.4" x2="43.4" y2="598.95" stroke="#000" stroke-width="1.5" stroke-linecap="butt"/>
<line x1="42.75" y1="598.3" x2="127.3" y2="598.3" stroke="#000" stroke-width="1.5" stroke-linecap="butt"/>
<line x1="39.4" y1="474" x2="43.4" y2="474" stroke="#000" stroke-width="1.5" stroke-linecap="butt"/>
<text transform="translate(38.5 477.48) scale(0.92 1)" font-size="9.8" font-weight="bold" text-anchor="end" class="b">3</text>
<line x1="39.4" y1="515.43" x2="43.4" y2="515.43" stroke="#000" stroke-width="1.5" stroke-linecap="butt"/>
<text transform="translate(38.5 518.91) scale(0.92 1)" font-size="9.8" font-weight="bold" text-anchor="end" class="b">2</text>
<line x1="39.4" y1="556.87" x2="43.4" y2="556.87" stroke="#000" stroke-width="1.5" stroke-linecap="butt"/>
<text transform="translate(38.5 560.35) scale(0.92 1)" font-size="9.8" font-weight="bold" text-anchor="end" class="b">1</text>
<line x1="39.4" y1="598.3" x2="43.4" y2="598.3" stroke="#000" stroke-width="1.5" stroke-linecap="butt"/>
<text transform="translate(38.5 601.78) scale(0.92 1)" font-size="9.8" font-weight="bold" text-anchor="end" class="b">0</text>
<line x1="64.8" y1="598.3" x2="64.8" y2="601.8" stroke="#000" stroke-width="1.5" stroke-linecap="butt"/>
<line x1="106.25" y1="598.3" x2="106.25" y2="601.8" stroke="#000" stroke-width="1.5" stroke-linecap="butt"/>
<text transform="translate(28.93 535.6) rotate(-90)" font-size="10.1" font-weight="bold" text-anchor="middle" class="b" style="stroke-width:0.08px">Sreum cholesterol (mmol/L)</text>
<line x1="67.7" y1="490.9" x2="107.4" y2="490.9" stroke="#000" stroke-width="1.4" stroke-linecap="butt"/>
<text x="86.4" y="490.24" font-size="11.5" font-weight="normal" text-anchor="middle" class="r" style="stroke-width:0.3px">*</text>
<line x1="203.25" y1="592.6" x2="203.25" y2="594.4" stroke="#000" stroke-width="1.7" stroke-linecap="butt"/>
<line x1="196.55" y1="592.6" x2="209.95" y2="592.6" stroke="#000" stroke-width="1.7" stroke-linecap="butt"/>
<rect x="190.4" y="595.3" width="25.7" height="2.7" fill="#fff" stroke="#000" stroke-width="1.8"/>
<line x1="245.45" y1="480.2" x2="245.45" y2="510.8" stroke="#000" stroke-width="1.7" stroke-linecap="butt"/>
<line x1="238.75" y1="480.2" x2="252.15" y2="480.2" stroke="#000" stroke-width="1.7" stroke-linecap="butt"/>
<rect x="231.7" y="510.8" width="27.5" height="87.2" fill="#000"/>
<line x1="183" y1="472.3" x2="183" y2="598.65" stroke="#000" stroke-width="1.5" stroke-linecap="butt"/>
<line x1="182.35" y1="598" x2="266.6" y2="598" stroke="#000" stroke-width="1.5" stroke-linecap="butt"/>
<line x1="179" y1="472.9" x2="183" y2="472.9" stroke="#000" stroke-width="1.5" stroke-linecap="butt"/>
<text transform="translate(178.1 476.38) scale(0.92 1)" font-size="9.8" font-weight="bold" text-anchor="end" class="b">1.0</text>
<line x1="179" y1="497.92" x2="183" y2="497.92" stroke="#000" stroke-width="1.5" stroke-linecap="butt"/>
<text transform="translate(178.1 501.4) scale(0.92 1)" font-size="9.8" font-weight="bold" text-anchor="end" class="b">0.8</text>
<line x1="179" y1="522.94" x2="183" y2="522.94" stroke="#000" stroke-width="1.5" stroke-linecap="butt"/>
<text transform="translate(178.1 526.42) scale(0.92 1)" font-size="9.8" font-weight="bold" text-anchor="end" class="b">0.6</text>
<line x1="179" y1="547.96" x2="183" y2="547.96" stroke="#000" stroke-width="1.5" stroke-linecap="butt"/>
<text transform="translate(178.1 551.44) scale(0.92 1)" font-size="9.8" font-weight="bold" text-anchor="end" class="b">0.4</text>
<line x1="179" y1="572.98" x2="183" y2="572.98" stroke="#000" stroke-width="1.5" stroke-linecap="butt"/>
<text transform="translate(178.1 576.46) scale(0.92 1)" font-size="9.8" font-weight="bold" text-anchor="end" class="b">0.2</text>
<line x1="179" y1="598" x2="183" y2="598" stroke="#000" stroke-width="1.5" stroke-linecap="butt"/>
<text transform="translate(178.1 601.48) scale(0.92 1)" font-size="9.8" font-weight="bold" text-anchor="end" class="b">0.0</text>
<line x1="203.25" y1="598" x2="203.25" y2="601.5" stroke="#000" stroke-width="1.5" stroke-linecap="butt"/>
<line x1="245.45" y1="598" x2="245.45" y2="601.5" stroke="#000" stroke-width="1.5" stroke-linecap="butt"/>
<text transform="translate(160.33 534.3) rotate(-90)" font-size="10.1" font-weight="bold" text-anchor="middle" class="b" style="stroke-width:0.08px">Serum LDL-cholesterol (mmol/L)</text>
<line x1="210.2" y1="476" x2="244.2" y2="476" stroke="#000" stroke-width="1.4" stroke-linecap="butt"/>
<text x="226.8" y="475.04" font-size="11.5" font-weight="normal" text-anchor="middle" class="r" style="stroke-width:0.3px">*</text>
<line x1="344.05" y1="497.1" x2="344.05" y2="505" stroke="#000" stroke-width="1.7" stroke-linecap="butt"/>
<line x1="337.35" y1="497.1" x2="350.75" y2="497.1" stroke="#000" stroke-width="1.7" stroke-linecap="butt"/>
<rect x="331.2" y="505.9" width="25.7" height="91.9" fill="#fff" stroke="#000" stroke-width="1.8"/>
<line x1="385.95" y1="517.5" x2="385.95" y2="526.4" stroke="#000" stroke-width="1.7" stroke-linecap="butt"/>
<line x1="379.25" y1="517.5" x2="392.65" y2="517.5" stroke="#000" stroke-width="1.7" stroke-linecap="butt"/>
<rect x="372.2" y="526.4" width="27.5" height="71.4" fill="#000"/>
<line x1="323.4" y1="472.4" x2="323.4" y2="598.45" stroke="#000" stroke-width="1.5" stroke-linecap="butt"/>
<line x1="322.75" y1="597.8" x2="407.3" y2="597.8" stroke="#000" stroke-width="1.5" stroke-linecap="butt"/>
<line x1="319.4" y1="473" x2="323.4" y2="473" stroke="#000" stroke-width="1.5" stroke-linecap="butt"/>
<text transform="translate(318.5 476.48) scale(0.92 1)" font-size="9.8" font-weight="bold" text-anchor="end" class="b">2.0</text>
<line x1="319.4" y1="504.2" x2="323.4" y2="504.2" stroke="#000" stroke-width="1.5" stroke-linecap="butt"/>
<text transform="translate(318.5 507.68) scale(0.92 1)" font-size="9.8" font-weight="bold" text-anchor="end" class="b">1.5</text>
<line x1="319.4" y1="535.4" x2="323.4" y2="535.4" stroke="#000" stroke-width="1.5" stroke-linecap="butt"/>
<text transform="translate(318.5 538.88) scale(0.92 1)" font-size="9.8" font-weight="bold" text-anchor="end" class="b">1.0</text>
<line x1="319.4" y1="566.6" x2="323.4" y2="566.6" stroke="#000" stroke-width="1.5" stroke-linecap="butt"/>
<text transform="translate(318.5 570.08) scale(0.92 1)" font-size="9.8" font-weight="bold" text-anchor="end" class="b">0.5</text>
<line x1="319.4" y1="597.8" x2="323.4" y2="597.8" stroke="#000" stroke-width="1.5" stroke-linecap="butt"/>
<text transform="translate(318.5 601.28) scale(0.92 1)" font-size="9.8" font-weight="bold" text-anchor="end" class="b">0.0</text>
<line x1="344.05" y1="597.8" x2="344.05" y2="601.3" stroke="#000" stroke-width="1.5" stroke-linecap="butt"/>
<line x1="385.95" y1="597.8" x2="385.95" y2="601.3" stroke="#000" stroke-width="1.5" stroke-linecap="butt"/>
<text transform="translate(301.03 535) rotate(-90)" font-size="10.1" font-weight="bold" text-anchor="middle" class="b" style="stroke-width:0.08px">Serum HDL-cholesterol (mmol/L)</text>
<line x1="486.4" y1="482.7" x2="486.4" y2="495.4" stroke="#000" stroke-width="1.7" stroke-linecap="butt"/>
<line x1="479.7" y1="482.7" x2="493.1" y2="482.7" stroke="#000" stroke-width="1.7" stroke-linecap="butt"/>
<rect x="473.55" y="496.3" width="25.7" height="102.2" fill="#fff" stroke="#000" stroke-width="1.8"/>
<line x1="527.95" y1="485.9" x2="527.95" y2="506.5" stroke="#000" stroke-width="1.7" stroke-linecap="butt"/>
<line x1="521.25" y1="485.9" x2="534.65" y2="485.9" stroke="#000" stroke-width="1.7" stroke-linecap="butt"/>
<rect x="514.2" y="506.5" width="27.5" height="92" fill="#000"/>
<line x1="465.7" y1="472.8" x2="465.7" y2="599.15" stroke="#000" stroke-width="1.5" stroke-linecap="butt"/>
<line x1="465.05" y1="598.5" x2="549.5" y2="598.5" stroke="#000" stroke-width="1.5" stroke-linecap="butt"/>
<line x1="461.7" y1="473.4" x2="465.7" y2="473.4" stroke="#000" stroke-width="1.5" stroke-linecap="butt"/>
<text transform="translate(460.8 476.88) scale(0.92 1)" font-size="9.8" font-weight="bold" text-anchor="end" class="b">0.8</text>
<line x1="461.7" y1="504.67" x2="465.7" y2="504.67" stroke="#000" stroke-width="1.5" stroke-linecap="butt"/>
<text transform="translate(460.8 508.15) scale(0.92 1)" font-size="9.8" font-weight="bold" text-anchor="end" class="b">0.6</text>
<line x1="461.7" y1="535.95" x2="465.7" y2="535.95" stroke="#000" stroke-width="1.5" stroke-linecap="butt"/>
<text transform="translate(460.8 539.43) scale(0.92 1)" font-size="9.8" font-weight="bold" text-anchor="end" class="b">0.4</text>
<line x1="461.7" y1="567.23" x2="465.7" y2="567.23" stroke="#000" stroke-width="1.5" stroke-linecap="butt"/>
<text transform="translate(460.8 570.7) scale(0.92 1)" font-size="9.8" font-weight="bold" text-anchor="end" class="b">0.2</text>
<line x1="461.7" y1="598.5" x2="465.7" y2="598.5" stroke="#000" stroke-width="1.5" stroke-linecap="butt"/>
<text transform="translate(460.8 601.98) scale(0.92 1)" font-size="9.8" font-weight="bold" text-anchor="end" class="b">0.0</text>
<line x1="486.4" y1="598.5" x2="486.4" y2="602" stroke="#000" stroke-width="1.5" stroke-linecap="butt"/>
<line x1="527.95" y1="598.5" x2="527.95" y2="602" stroke="#000" stroke-width="1.5" stroke-linecap="butt"/>
<text transform="translate(442.93 535.5) rotate(-90)" font-size="10.1" font-weight="bold" text-anchor="middle" class="b" style="stroke-width:0.08px">Serum triglycerides (mmol/L)</text>
<line x1="621" y1="501" x2="621" y2="510.7" stroke="#000" stroke-width="1.7" stroke-linecap="butt"/>
<line x1="614.3" y1="501" x2="627.7" y2="501" stroke="#000" stroke-width="1.7" stroke-linecap="butt"/>
<rect x="608.15" y="511.6" width="25.7" height="86.9" fill="#fff" stroke="#000" stroke-width="1.8"/>
<line x1="662.6" y1="501" x2="662.6" y2="511.8" stroke="#000" stroke-width="1.7" stroke-linecap="butt"/>
<line x1="655.9" y1="501" x2="669.3" y2="501" stroke="#000" stroke-width="1.7" stroke-linecap="butt"/>
<rect x="648.85" y="511.8" width="27.5" height="86.7" fill="#000"/>
<line x1="600" y1="472.9" x2="600" y2="599.15" stroke="#000" stroke-width="1.5" stroke-linecap="butt"/>
<line x1="599.35" y1="598.5" x2="685" y2="598.5" stroke="#000" stroke-width="1.5" stroke-linecap="butt"/>
<line x1="596" y1="473.5" x2="600" y2="473.5" stroke="#000" stroke-width="1.5" stroke-linecap="butt"/>
<text transform="translate(595.1 476.98) scale(0.92 1)" font-size="9.8" font-weight="bold" text-anchor="end" class="b">1.0</text>
<line x1="596" y1="498.5" x2="600" y2="498.5" stroke="#000" stroke-width="1.5" stroke-linecap="butt"/>
<text transform="translate(595.1 501.98) scale(0.92 1)" font-size="9.8" font-weight="bold" text-anchor="end" class="b">0.8</text>
<line x1="596" y1="523.5" x2="600" y2="523.5" stroke="#000" stroke-width="1.5" stroke-linecap="butt"/>
<text transform="translate(595.1 526.98) scale(0.92 1)" font-size="9.8" font-weight="bold" text-anchor="end" class="b">0.6</text>
<line x1="596" y1="548.5" x2="600" y2="548.5" stroke="#000" stroke-width="1.5" stroke-linecap="butt"/>
<text transform="translate(595.1 551.98) scale(0.92 1)" font-size="9.8" font-weight="bold" text-anchor="end" class="b">0.4</text>
<line x1="596" y1="573.5" x2="600" y2="573.5" stroke="#000" stroke-width="1.5" stroke-linecap="butt"/>
<text transform="translate(595.1 576.98) scale(0.92 1)" font-size="9.8" font-weight="bold" text-anchor="end" class="b">0.2</text>
<line x1="596" y1="598.5" x2="600" y2="598.5" stroke="#000" stroke-width="1.5" stroke-linecap="butt"/>
<text transform="translate(595.1 601.98) scale(0.92 1)" font-size="9.8" font-weight="bold" text-anchor="end" class="b">0.0</text>
<line x1="621" y1="598.5" x2="621" y2="602" stroke="#000" stroke-width="1.5" stroke-linecap="butt"/>
<line x1="662.6" y1="598.5" x2="662.6" y2="602" stroke="#000" stroke-width="1.5" stroke-linecap="butt"/>
<text transform="translate(577.83 536) rotate(-90)" font-size="10.1" font-weight="bold" text-anchor="middle" class="b" style="stroke-width:0.08px">Serum FFAs (mmol/L)</text>
<text x="6.5" y="648.8" font-size="16" font-weight="bold" text-anchor="start" class="b">E</text>
<rect x="53.5" y="655.8" width="11.1" height="4.7" fill="#fff" stroke="#000" stroke-width="1.6"/>
<rect x="52.7" y="666.2" width="12.7" height="6.5" fill="#000"/>
<text transform="translate(72.6 661.5) scale(0.93 1)" font-size="10.4" font-weight="normal" text-anchor="start" class="r">NC</text>
<text transform="translate(72.6 672.8) scale(0.93 1)" font-size="10.4" font-weight="normal" text-anchor="start" class="r">CA</text>
<line x1="70.4" y1="780.7" x2="70.4" y2="784.6" stroke="#000" stroke-width="1.7" stroke-linecap="butt"/>
<line x1="63.7" y1="780.7" x2="77.1" y2="780.7" stroke="#000" stroke-width="1.7" stroke-linecap="butt"/>
<rect x="57.55" y="785.5" width="25.7" height="11.8" fill="#fff" stroke="#000" stroke-width="1.8"/>
<line x1="111.8" y1="695.3" x2="111.8" y2="705.2" stroke="#000" stroke-width="1.7" stroke-linecap="butt"/>
<line x1="105.1" y1="695.3" x2="118.5" y2="695.3" stroke="#000" stroke-width="1.7" stroke-linecap="butt"/>
<rect x="98.05" y="705.2" width="27.5" height="92.1" fill="#000"/>
<line x1="49.6" y1="672.1" x2="49.6" y2="797.95" stroke="#000" stroke-width="1.5" stroke-linecap="butt"/>
<line x1="48.95" y1="797.3" x2="133.5" y2="797.3" stroke="#000" stroke-width="1.5" stroke-linecap="butt"/>
<line x1="45.6" y1="672.7" x2="49.6" y2="672.7" stroke="#000" stroke-width="1.5" stroke-linecap="butt"/>
<text transform="translate(44.7 676.18) scale(0.92 1)" font-size="9.8" font-weight="bold" text-anchor="end" class="b">30</text>
<line x1="45.6" y1="714.23" x2="49.6" y2="714.23" stroke="#000" stroke-width="1.5" stroke-linecap="butt"/>
<text transform="translate(44.7 717.71) scale(0.92 1)" font-size="9.8" font-weight="bold" text-anchor="end" class="b">20</text>
<line x1="45.6" y1="755.77" x2="49.6" y2="755.77" stroke="#000" stroke-width="1.5" stroke-linecap="butt"/>
<text transform="translate(44.7 759.25) scale(0.92 1)" font-size="9.8" font-weight="bold" text-anchor="end" class="b">10</text>
<line x1="45.6" y1="797.3" x2="49.6" y2="797.3" stroke="#000" stroke-width="1.5" stroke-linecap="butt"/>
<text transform="translate(44.7 800.78) scale(0.92 1)" font-size="9.8" font-weight="bold" text-anchor="end" class="b">0</text>
<line x1="70.4" y1="797.3" x2="70.4" y2="800.8" stroke="#000" stroke-width="1.5" stroke-linecap="butt"/>
<line x1="111.8" y1="797.3" x2="111.8" y2="800.8" stroke="#000" stroke-width="1.5" stroke-linecap="butt"/>
<text transform="translate(29.75 735) rotate(-90)" font-size="10.2" font-weight="bold" text-anchor="middle" class="b" style="stroke-width:0.08px">Hepatic cholesterol (µmol/g)</text>
<line x1="74.4" y1="689.6" x2="110.9" y2="689.6" stroke="#000" stroke-width="1.4" stroke-linecap="butt"/>
<text x="93.1" y="687.44" font-size="11.5" font-weight="normal" text-anchor="middle" class="r" style="stroke-width:0.3px">*</text>
<line x1="208.25" y1="700" x2="208.25" y2="711.2" stroke="#000" stroke-width="1.7" stroke-linecap="butt"/>
<line x1="201.55" y1="700" x2="214.95" y2="700" stroke="#000" stroke-width="1.7" stroke-linecap="butt"/>
<rect x="195.4" y="712.1" width="25.7" height="85.9" fill="#fff" stroke="#000" stroke-width="1.8"/>
<line x1="249.8" y1="730.8" x2="249.8" y2="734.3" stroke="#000" stroke-width="1.7" stroke-linecap="butt"/>
<line x1="243.1" y1="730.8" x2="256.5" y2="730.8" stroke="#000" stroke-width="1.7" stroke-linecap="butt"/>
<rect x="236.05" y="734.3" width="27.5" height="63.7" fill="#000"/>
<line x1="187.6" y1="672.9" x2="187.6" y2="798.65" stroke="#000" stroke-width="1.5" stroke-linecap="butt"/>
<line x1="186.95" y1="798" x2="272" y2="798" stroke="#000" stroke-width="1.5" stroke-linecap="butt"/>
<line x1="183.6" y1="673.5" x2="187.6" y2="673.5" stroke="#000" stroke-width="1.5" stroke-linecap="butt"/>
<text transform="translate(182.7 676.98) scale(0.92 1)" font-size="9.8" font-weight="bold" text-anchor="end" class="b">250</text>
<line x1="183.6" y1="698.4" x2="187.6" y2="698.4" stroke="#000" stroke-width="1.5" stroke-linecap="butt"/>
<text transform="translate(182.7 701.88) scale(0.92 1)" font-size="9.8" font-weight="bold" text-anchor="end" class="b">200</text>
<line x1="183.6" y1="723.3" x2="187.6" y2="723.3" stroke="#000" stroke-width="1.5" stroke-linecap="butt"/>
<text transform="translate(182.7 726.78) scale(0.92 1)" font-size="9.8" font-weight="bold" text-anchor="end" class="b">150</text>
<line x1="183.6" y1="748.2" x2="187.6" y2="748.2" stroke="#000" stroke-width="1.5" stroke-linecap="butt"/>
<text transform="translate(182.7 751.68) scale(0.92 1)" font-size="9.8" font-weight="bold" text-anchor="end" class="b">100</text>
<line x1="183.6" y1="773.1" x2="187.6" y2="773.1" stroke="#000" stroke-width="1.5" stroke-linecap="butt"/>
<text transform="translate(182.7 776.58) scale(0.92 1)" font-size="9.8" font-weight="bold" text-anchor="end" class="b">50</text>
<line x1="183.6" y1="798" x2="187.6" y2="798" stroke="#000" stroke-width="1.5" stroke-linecap="butt"/>
<text transform="translate(182.7 801.48) scale(0.92 1)" font-size="9.8" font-weight="bold" text-anchor="end" class="b">0</text>
<line x1="208.25" y1="798" x2="208.25" y2="801.5" stroke="#000" stroke-width="1.5" stroke-linecap="butt"/>
<line x1="249.8" y1="798" x2="249.8" y2="801.5" stroke="#000" stroke-width="1.5" stroke-linecap="butt"/>
<text transform="translate(163.35 735.5) rotate(-90)" font-size="10.2" font-weight="bold" text-anchor="middle" class="b" style="stroke-width:0.08px">Hepatic triglycerides (µmol/g)</text>
<line x1="348.65" y1="722.6" x2="348.65" y2="726.8" stroke="#000" stroke-width="1.7" stroke-linecap="butt"/>
<line x1="341.95" y1="722.6" x2="355.35" y2="722.6" stroke="#000" stroke-width="1.7" stroke-linecap="butt"/>
<rect x="335.8" y="727.7" width="25.7" height="69.6" fill="#fff" stroke="#000" stroke-width="1.8"/>
<line x1="390.35" y1="716.9" x2="390.35" y2="720.1" stroke="#000" stroke-width="1.7" stroke-linecap="butt"/>
<line x1="383.65" y1="716.9" x2="397.05" y2="716.9" stroke="#000" stroke-width="1.7" stroke-linecap="butt"/>
<rect x="376.6" y="720.1" width="27.5" height="77.2" fill="#000"/>
<line x1="327.8" y1="672.1" x2="327.8" y2="797.95" stroke="#000" stroke-width="1.5" stroke-linecap="butt"/>
<line x1="327.15" y1="797.3" x2="411.4" y2="797.3" stroke="#000" stroke-width="1.5" stroke-linecap="butt"/>
<line x1="323.8" y1="672.7" x2="327.8" y2="672.7" stroke="#000" stroke-width="1.5" stroke-linecap="butt"/>
<text transform="translate(322.9 676.18) scale(0.92 1)" font-size="9.8" font-weight="bold" text-anchor="end" class="b">150</text>
<line x1="323.8" y1="714.23" x2="327.8" y2="714.23" stroke="#000" stroke-width="1.5" stroke-linecap="butt"/>
<text transform="translate(322.9 717.71) scale(0.92 1)" font-size="9.8" font-weight="bold" text-anchor="end" class="b">100</text>
<line x1="323.8" y1="755.77" x2="327.8" y2="755.77" stroke="#000" stroke-width="1.5" stroke-linecap="butt"/>
<text transform="translate(322.9 759.25) scale(0.92 1)" font-size="9.8" font-weight="bold" text-anchor="end" class="b">50</text>
<line x1="323.8" y1="797.3" x2="327.8" y2="797.3" stroke="#000" stroke-width="1.5" stroke-linecap="butt"/>
<text transform="translate(322.9 800.78) scale(0.92 1)" font-size="9.8" font-weight="bold" text-anchor="end" class="b">0</text>
<line x1="348.65" y1="797.3" x2="348.65" y2="800.8" stroke="#000" stroke-width="1.5" stroke-linecap="butt"/>
<line x1="390.35" y1="797.3" x2="390.35" y2="800.8" stroke="#000" stroke-width="1.5" stroke-linecap="butt"/>
<text transform="translate(302.75 734.9) rotate(-90)" font-size="10.2" font-weight="bold" text-anchor="middle" class="b" style="stroke-width:0.08px">Hepatic FFAs (µmol/g)</text>
<text x="437.4" y="648.7" font-size="16" font-weight="bold" text-anchor="start" class="b">F</text>
<rect x="490.65" y="649.65" width="12.7" height="5.2" fill="#fff" stroke="#000" stroke-width="1.9"/>
<rect x="489.7" y="661" width="14.6" height="6.8" fill="#000"/>
<text transform="translate(512.6 656.2) scale(0.88 1)" font-size="12.3" font-weight="normal" text-anchor="start" class="r">NC</text>
<text transform="translate(512.6 668.1) scale(0.88 1)" font-size="12.3" font-weight="normal" text-anchor="start" class="r">CA</text>
<line x1="491.5" y1="726.8" x2="491.5" y2="739.2" stroke="#000" stroke-width="1.8" stroke-linecap="butt"/>
<line x1="487.8" y1="726.8" x2="495.2" y2="726.8" stroke="#000" stroke-width="1.8" stroke-linecap="butt"/>
<rect x="486.25" y="740.15" width="10.5" height="56.05" fill="#fff" stroke="#000" stroke-width="1.9"/>
<line x1="511.4" y1="690.1" x2="511.4" y2="701.5" stroke="#000" stroke-width="1.8" stroke-linecap="butt"/>
<line x1="507.7" y1="690.1" x2="515.1" y2="690.1" stroke="#000" stroke-width="1.8" stroke-linecap="butt"/>
<rect x="505.2" y="701.5" width="12.4" height="94.7" fill="#000"/>
<line x1="544.6" y1="745.9" x2="544.6" y2="750.4" stroke="#000" stroke-width="1.8" stroke-linecap="butt"/>
<line x1="540.9" y1="745.9" x2="548.3" y2="745.9" stroke="#000" stroke-width="1.8" stroke-linecap="butt"/>
<rect x="539.35" y="751.35" width="10.5" height="44.85" fill="#fff" stroke="#000" stroke-width="1.9"/>
<line x1="564.5" y1="693.8" x2="564.5" y2="716.9" stroke="#000" stroke-width="1.8" stroke-linecap="butt"/>
<line x1="560.8" y1="693.8" x2="568.2" y2="693.8" stroke="#000" stroke-width="1.8" stroke-linecap="butt"/>
<rect x="558.3" y="716.9" width="12.4" height="79.3" fill="#000"/>
<line x1="597.35" y1="760.3" x2="597.35" y2="767.2" stroke="#000" stroke-width="1.8" stroke-linecap="butt"/>
<line x1="593.65" y1="760.3" x2="601.05" y2="760.3" stroke="#000" stroke-width="1.8" stroke-linecap="butt"/>
<rect x="592.05" y="768.15" width="10.6" height="28.05" fill="#fff" stroke="#000" stroke-width="1.9"/>
<line x1="616.85" y1="778" x2="616.85" y2="785.2" stroke="#000" stroke-width="1.8" stroke-linecap="butt"/>
<line x1="613.15" y1="778" x2="620.55" y2="778" stroke="#000" stroke-width="1.8" stroke-linecap="butt"/>
<rect x="610.2" y="785.2" width="13.3" height="11" fill="#000"/>
<line x1="650.05" y1="760.7" x2="650.05" y2="766.7" stroke="#000" stroke-width="1.8" stroke-linecap="butt"/>
<line x1="646.35" y1="760.7" x2="653.75" y2="760.7" stroke="#000" stroke-width="1.8" stroke-linecap="butt"/>
<rect x="644.75" y="767.65" width="10.6" height="28.55" fill="#fff" stroke="#000" stroke-width="1.9"/>
<line x1="669.65" y1="781.8" x2="669.65" y2="784.2" stroke="#000" stroke-width="1.8" stroke-linecap="butt"/>
<line x1="665.95" y1="781.8" x2="673.35" y2="781.8" stroke="#000" stroke-width="1.8" stroke-linecap="butt"/>
<rect x="663.1" y="784.2" width="13.1" height="12" fill="#000"/>
<line x1="477.6" y1="658.7" x2="477.6" y2="796.85" stroke="#000" stroke-width="1.5" stroke-linecap="butt"/>
<line x1="476.95" y1="796.2" x2="684" y2="796.2" stroke="#000" stroke-width="1.5" stroke-linecap="butt"/>
<line x1="473.6" y1="659.3" x2="477.6" y2="659.3" stroke="#000" stroke-width="1.5" stroke-linecap="butt"/>
<text transform="translate(472.9 663) scale(0.92 1)" font-size="10.5" font-weight="bold" text-anchor="end" class="b">5</text>
<line x1="473.6" y1="686.68" x2="477.6" y2="686.68" stroke="#000" stroke-width="1.5" stroke-linecap="butt"/>
<text transform="translate(472.9 690.38) scale(0.92 1)" font-size="10.5" font-weight="bold" text-anchor="end" class="b">4</text>
<line x1="473.6" y1="714.06" x2="477.6" y2="714.06" stroke="#000" stroke-width="1.5" stroke-linecap="butt"/>
<text transform="translate(472.9 717.76) scale(0.92 1)" font-size="10.5" font-weight="bold" text-anchor="end" class="b">3</text>
<line x1="473.6" y1="741.44" x2="477.6" y2="741.44" stroke="#000" stroke-width="1.5" stroke-linecap="butt"/>
<text transform="translate(472.9 745.14) scale(0.92 1)" font-size="10.5" font-weight="bold" text-anchor="end" class="b">2</text>
<line x1="473.6" y1="768.82" x2="477.6" y2="768.82" stroke="#000" stroke-width="1.5" stroke-linecap="butt"/>
<text transform="translate(472.9 772.52) scale(0.92 1)" font-size="10.5" font-weight="bold" text-anchor="end" class="b">1</text>
<line x1="473.6" y1="796.2" x2="477.6" y2="796.2" stroke="#000" stroke-width="1.5" stroke-linecap="butt"/>
<text transform="translate(472.9 799.9) scale(0.92 1)" font-size="10.5" font-weight="bold" text-anchor="end" class="b">0</text>
<line x1="501.3" y1="796.2" x2="501.3" y2="800.2" stroke="#000" stroke-width="1.5" stroke-linecap="butt"/>
<text transform="translate(505.6 808.8) rotate(-45)" font-size="10.6" font-weight="bold" text-anchor="end" class="b">Shp</text>
<line x1="554.6" y1="796.2" x2="554.6" y2="800.2" stroke="#000" stroke-width="1.5" stroke-linecap="butt"/>
<text transform="translate(558.9 808.8) rotate(-45)" font-size="10.6" font-weight="bold" text-anchor="end" class="b">Bsep</text>
<line x1="607" y1="796.2" x2="607" y2="800.2" stroke="#000" stroke-width="1.5" stroke-linecap="butt"/>
<text transform="translate(611.3 808.8) rotate(-45)" font-size="10.6" font-weight="bold" text-anchor="end" class="b">Cyp7a1</text>
<line x1="659.8" y1="796.2" x2="659.8" y2="800.2" stroke="#000" stroke-width="1.5" stroke-linecap="butt"/>
<text transform="translate(664.1 808.8) rotate(-45)" font-size="10.6" font-weight="bold" text-anchor="end" class="b">Cyp8b1</text>
<text transform="translate(460.51 727.2) rotate(-90)" font-size="11.2" font-weight="bold" text-anchor="middle" class="b" style="stroke-width:0.08px">Relative mRNA expression</text>
<line x1="490.8" y1="686.3" x2="510.6" y2="686.3" stroke="#000" stroke-width="1.4" stroke-linecap="butt"/>
<text x="501" y="685.56" font-size="13.5" font-weight="normal" text-anchor="middle" class="r" style="stroke-width:0.4px">*</text>
<line x1="648.6" y1="755.2" x2="667.8" y2="755.2" stroke="#000" stroke-width="1.4" stroke-linecap="butt"/>
<text x="658.7" y="753.16" font-size="13.5" font-weight="normal" text-anchor="middle" class="r" style="stroke-width:0.4px">*</text>
</svg>
</body></html>
